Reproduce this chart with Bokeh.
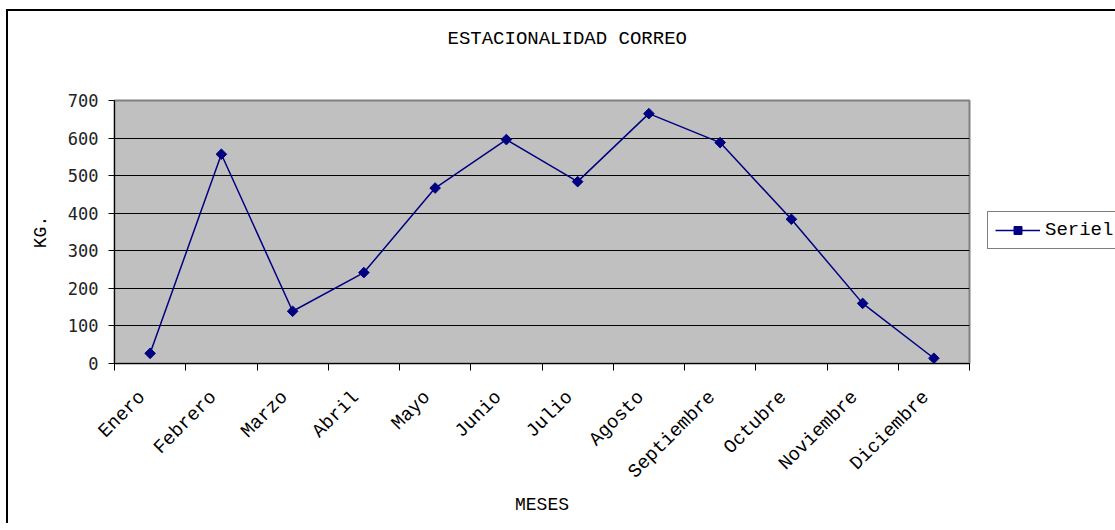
import math
from bokeh.plotting import figure
from bokeh.models import FixedTicker, Legend, LegendItem, Range1d
from bokeh.embed import file_html
from bokeh.resources import INLINE

# ---- data ----
months = ["Enero", "Febrero", "Marzo", "Abril", "Mayo", "Junio", "Julio",
          "Agosto", "Septiembre", "Octubre", "Noviembre", "Diciembre"]
kg = [27, 557, 139, 242, 467, 596, 484, 665, 588, 384, 160, 14]
y_ticks = [0, 100, 200, 300, 400, 500, 600, 700]
title_text = "ESTACIONALIDAD CORREO"
x_label = "MESES"
y_label = "KG."
series_name = "Seriel"

MONO = "Liberation Mono"
FL, FT, FW, FH = 106, 89, 855, 263
BR, BB = 144, 160

p = figure(frame_width=FW, frame_height=FH, output_backend="svg", toolbar_location=None,
           x_range=Range1d(0, len(months)), y_range=Range1d(0, y_ticks[-1]),
           min_border_left=FL, min_border_top=FT,
           min_border_right=BR, min_border_bottom=BB)
p.styles = {"margin-left": "6px", "margin-top": "9px",
            "border-left": "2px solid black", "border-top": "2px solid black"}

# two empty trailing lines lift the title higher above the frame
p.title.text = title_text + "\n\n"
p.title.align = "left"
p.title.offset = 333
p.title.vertical_align = "top"
p.title.standoff = 10
p.title.text_font = MONO
p.title.text_font_size = "19px"
p.title.text_font_style = "normal"
p.title.text_color = "black"

p.background_fill_color = "#C0C0C0"
p.border_fill_color = "white"
p.outline_line_color = "#808080"
p.outline_line_width = 2

xs = [i + 0.5 for i in range(len(months))]
ln = p.line(xs, kg, line_color="#000080", line_width=1.5)
pts = p.scatter(xs, kg, marker="square", angle=math.pi / 4, size=7.5,
                fill_color="#000080", line_color="#000080")

# x axis (labels drawn slightly left of the category centre, like the original)
label_shift = 0.11
xa = p.xaxis[0]
label_pos = [x - label_shift for x in xs]
xa.ticker = FixedTicker(ticks=label_pos, minor_ticks=list(range(len(months) + 1)))
xa.major_label_overrides = {x: m for x, m in zip(label_pos, months)}
xa.major_tick_line_color = None
xa.minor_tick_line_color = "black"
xa.minor_tick_out = 7
xa.minor_tick_in = 0
xa.axis_line_color = "black"
xa.major_label_orientation = math.pi / 4
xa.major_label_text_font = MONO
xa.major_label_text_font_size = "19px"
xa.major_label_text_color = "black"
xa.major_label_standoff = 24
xa.axis_label = x_label
xa.axis_label_text_font = MONO
xa.axis_label_text_font_size = "18px"
xa.axis_label_text_font_style = "normal"
xa.axis_label_text_color = "black"
xa.axis_label_standoff = 1

# y axis
ya = p.yaxis[0]
ya.ticker = FixedTicker(ticks=y_ticks)
ya.minor_tick_line_color = None
ya.major_tick_out = 6
ya.major_tick_in = 0
ya.major_tick_line_color = "black"
ya.axis_line_color = "black"
ya.major_label_text_font = "DejaVu Sans Mono"
ya.major_label_text_font_size = "17px"
ya.major_label_text_color = "#222222"
ya.major_label_standoff = 10
ya.axis_label = y_label
ya.axis_label_text_font = MONO
ya.axis_label_text_font_size = "18px"
ya.axis_label_text_font_style = "normal"
ya.axis_label_text_color = "black"
ya.axis_label_standoff = 14

p.xgrid.visible = False
p.ygrid.ticker = FixedTicker(ticks=y_ticks[1:-1])
p.ygrid.grid_line_color = "black"
p.ygrid.grid_line_alpha = 1.0
p.ygrid.grid_line_width = 1

legend = Legend(items=[LegendItem(label=series_name, renderers=[ln, pts])],
                location=(18, 114), orientation="vertical")
legend.border_line_color = "black"
legend.border_line_width = 1
legend.background_fill_color = "white"
legend.background_fill_alpha = 1
legend.label_text_font = MONO
legend.label_text_font_size = "19px"
legend.label_text_color = "black"
legend.glyph_width = 45
legend.glyph_height = 20
legend.padding = 7
legend.margin = 0
legend.label_standoff = 5
legend.spacing = 0
p.add_layout(legend, "right")

open("out.html", "w").write(file_html(p, INLINE))
